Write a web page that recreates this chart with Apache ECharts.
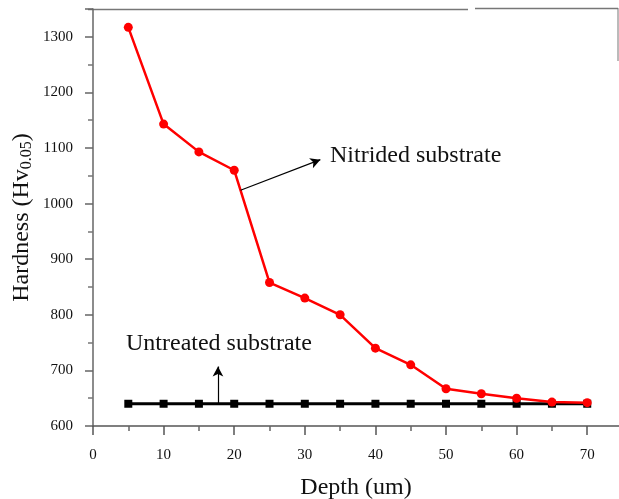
<!DOCTYPE html>
<html>
<head>
<meta charset="utf-8">
<script src="https://cdn.jsdelivr.net/npm/echarts@6/dist/echarts.min.js"></script>
<style>
  html, body { margin: 0; padding: 0; background: #fff; }
  #chart { width: 619px; height: 499px; }
</style>
</head>
<body>
<div id="chart"></div>
<script>
// depth (um) and hardness values
var depth = [5, 10, 15, 20, 25, 30, 35, 40, 45, 50, 55, 60, 65, 70];
var nitrided = [1317, 1143, 1093, 1060, 858, 830, 800, 740, 710, 667, 658, 650, 643, 642];
var untreated = [640, 640, 640, 640, 640, 640, 640, 640, 640, 640, 640, 640, 640, 640];
var xTicks = [0, 10, 20, 30, 40, 50, 60, 70];

function pairs(xs, ys) {
    return xs.map(function (x, i) { return [x, ys[i]]; });
}

var font = '"Liberation Serif", "Times New Roman", serif';
var myChart = echarts.init(document.getElementById('chart'));
var option = {
    animation: false,
    grid: {
        left: 93,
        right: 0,
        top: 9,
        bottom: 73,
        outerBoundsMode: 'none'
    },
    xAxis: {
        type: 'value',
        min: 0,
        max: 74.5,
        interval: 10,
        name: 'Depth (um)',
        nameLocation: 'middle',
        nameGap: 50,
        nameTextStyle: { fontFamily: font, fontSize: 24, color: '#111' },
        axisLine: { lineStyle: { color: '#555', width: 1.5 } },
        axisTick: { inside: false, length: 9, customValues: xTicks, lineStyle: { color: '#555', width: 1.5 } },
        minorTick: { show: true, splitNumber: 2, length: 5, lineStyle: { color: '#666', width: 1.5 } },
        axisLabel: { fontFamily: font, fontSize: 15, color: '#111', margin: 22, customValues: xTicks },
        splitLine: { show: false }
    },
    yAxis: {
        type: 'value',
        min: 600,
        max: 1350,
        interval: 100,
        name: '{n|Hardness (Hv}{s|0.05}{n|)}',
        nameLocation: 'middle',
        nameGap: 58,
        nameMoveOverlap: false,
        nameRotate: 90,
        nameTextStyle: {
            rich: {
                n: { fontFamily: font, fontSize: 24, color: '#111' },
                s: { fontFamily: font, fontSize: 16, color: '#111', verticalAlign: 'bottom', padding: [10, 0, 0, 0] }
            }
        },
        axisLine: { lineStyle: { color: '#666', width: 1.5 } },
        axisTick: { inside: false, length: 8, lineStyle: { color: '#666', width: 1.5 } },
        minorTick: { show: true, splitNumber: 2, length: 5, lineStyle: { color: '#777', width: 1.5 } },
        axisLabel: {
            fontFamily: font, fontSize: 15, color: '#111', margin: 20, showMaxLabel: false,
            formatter: function (v) { return String(v); }
        },
        splitLine: { show: false }
    },
    series: [
        {
            name: 'Untreated substrate',
            type: 'line',
            data: pairs(depth, untreated),
            symbol: 'rect',
            symbolSize: 8,
            itemStyle: { color: '#000' },
            lineStyle: { color: '#000', width: 3 },
            z: 2,
            markLine: {
                silent: true,
                symbol: ['none', 'arrow'],
                symbolSize: [8, 10],
                label: { show: false },
                lineStyle: { color: '#000', width: 1.2, type: 'solid' },
                data: [[{ coord: [17.7, 641] }, { coord: [17.7, 707] }]]
            }
        },
        {
            name: 'Nitrided substrate',
            type: 'line',
            data: pairs(depth, nitrided),
            symbol: 'circle',
            symbolSize: 9,
            itemStyle: { color: '#f00' },
            lineStyle: { color: '#f00', width: 2.5 },
            z: 3,
            markLine: {
                silent: true,
                symbol: ['none', 'arrow'],
                symbolSize: [8, 10],
                label: { show: false },
                lineStyle: { color: '#000', width: 1.2, type: 'solid' },
                data: [[{ coord: [20.9, 1024] }, { coord: [32.2, 1079] }]]
            }
        }
    ],
    graphic: [
        { type: 'text', left: 330, top: 144, style: { text: 'Nitrided substrate', font: '24px ' + font, fill: '#111' } },
        { type: 'text', left: 126, top: 332, style: { text: 'Untreated substrate', font: '24px ' + font, fill: '#111' } },
        // frame pieces at top and right
        { type: 'line', shape: { x1: 88, y1: 9.5, x2: 468, y2: 9.5 }, style: { stroke: '#777', lineWidth: 1.5 } },
        { type: 'line', shape: { x1: 475, y1: 8.5, x2: 618, y2: 8.5 }, style: { stroke: '#777', lineWidth: 1.5 } },
        { type: 'line', shape: { x1: 618, y1: 8, x2: 618, y2: 61 }, style: { stroke: '#777', lineWidth: 1 } }
    ]
};
myChart.setOption(option);
</script>
</body>
</html>
